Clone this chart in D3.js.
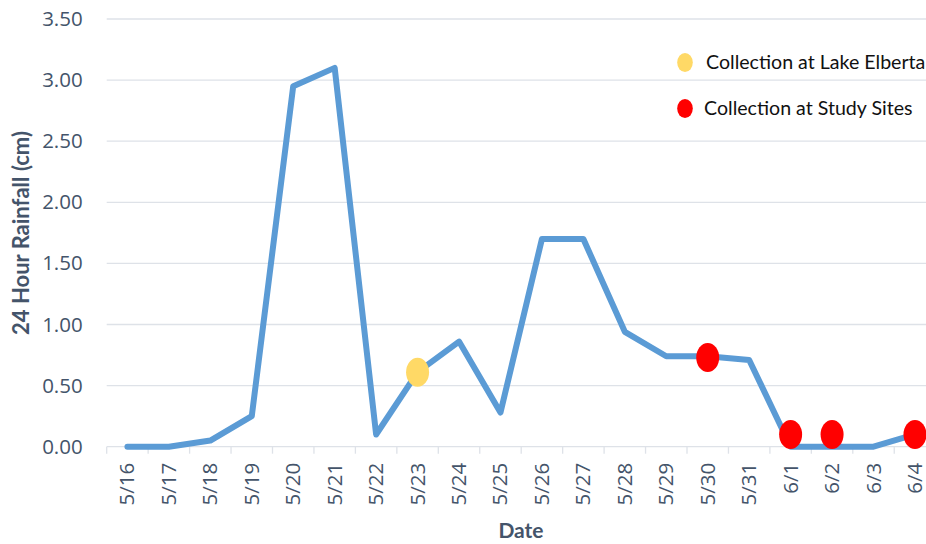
<!DOCTYPE html>
<html>
<head>
<meta charset="utf-8">
<script src="https://cdn.jsdelivr.net/npm/d3@7/dist/d3.min.js"></script>
<style>
  html, body { margin: 0; padding: 0; background: #fff; }
  svg { display: block; }
</style>
</head>
<body>
<svg id="chart" width="926" height="544"></svg>
<script>
// Daily rainfall record, 16 May – 4 June
const dates = ["5/16","5/17","5/18","5/19","5/20","5/21","5/22","5/23","5/24","5/25",
               "5/26","5/27","5/28","5/29","5/30","5/31","6/1","6/2","6/3","6/4"];
const rainfall = [0, 0, 0.05, 0.25, 2.95, 3.10, 0.10, 0.61, 0.86, 0.28,
                  1.70, 1.70, 0.94, 0.74, 0.74, 0.71, 0, 0, 0, 0.10];

// Sampling events
const lakeDates = ["5/23"];
const lakeValues = [0.61];
const siteDates = ["5/30", "6/1", "6/2", "6/4"];
const siteValues = [0.73, 0.10, 0.10, 0.10];

const yTicks = [0, 0.5, 1, 1.5, 2, 2.5, 3, 3.5];
const legendLabels = ["Collection at Lake Elberta", "Collection at Study Sites"];

const lineColor = "#5B9BD5";
const lakeColor = "#FFD966";
const siteColor = "#FF0000";
const axisText = "#44546A";
const gridColor = "#DEE2E8";

const svg = d3.select("#chart");

const x = d3.scaleBand().domain(dates).range([106.7, 935.7]).padding(0);
const y = d3.scaleLinear().domain([0, 3.5]).range([446.7, 19]);
const cx = d => x(d) + x.bandwidth() / 2;

// Horizontal gridlines
svg.append("g")
  .selectAll("line")
  .data(yTicks.filter(t => t > 0))
  .join("line")
  .attr("x1", 106.7).attr("x2", 926)
  .attr("y1", d => y(d)).attr("y2", d => y(d))
  .attr("stroke", gridColor).attr("stroke-width", 1.3);

// Y axis labels
const yAxis = svg.append("g")
  .attr("transform", "translate(106.7,0)")
  .call(d3.axisLeft(y).tickValues(yTicks).tickFormat(d3.format(".2f")).tickSize(0).tickPadding(24));
yAxis.select(".domain").remove();
yAxis.selectAll("text")
  .attr("fill", axisText)
  .style("font-family", "'Open Sans', sans-serif")
  .style("font-size", "20.5px");

// X axis: baseline, tick marks at category boundaries, rotated labels
const xAxisG = svg.append("g").attr("transform", `translate(0,${y(0)})`);
xAxisG.append("line")
  .attr("x1", 106.7).attr("x2", 926)
  .attr("stroke", gridColor).attr("stroke-width", 1.3);
xAxisG.selectAll("line.tick")
  .data(dates)
  .join("line")
  .attr("class", "tick")
  .attr("x1", d => x(d)).attr("x2", d => x(d))
  .attr("y1", 0).attr("y2", 7)
  .attr("stroke", gridColor).attr("stroke-width", 1.3);
xAxisG.selectAll("text")
  .data(dates)
  .join("text")
  .attr("transform", d => `translate(${cx(d) + 7},16) rotate(-90)`)
  .attr("text-anchor", "end")
  .attr("fill", axisText)
  .style("font-family", "'Open Sans', sans-serif")
  .style("font-size", "20.5px")
  .text(d => d);

// Axis titles
svg.append("text")
  .attr("transform", `translate(29,233) rotate(-90)`)
  .attr("text-anchor", "middle")
  .attr("fill", axisText)
  .style("font-family", "Lato, sans-serif")
  .style("font-weight", "bold")
  .style("font-size", "22px")
  .text("24 Hour Rainfall (cm)");

svg.append("text")
  .attr("x", 521).attr("y", 538)
  .attr("text-anchor", "middle")
  .attr("fill", axisText)
  .style("font-family", "Lato, sans-serif")
  .style("font-weight", "bold")
  .style("font-size", "21px")
  .text("Date");

// Rainfall line
const line = d3.line()
  .x((d, i) => cx(dates[i]))
  .y(d => y(d));
svg.append("path")
  .datum(rainfall)
  .attr("d", line)
  .attr("fill", "none")
  .attr("stroke", lineColor)
  .attr("stroke-width", 6)
  .attr("stroke-linejoin", "round")
  .attr("stroke-linecap", "round");

// Collection markers
svg.append("g").selectAll("ellipse")
  .data(lakeDates.map((d, i) => ({d, v: lakeValues[i]})))
  .join("ellipse")
  .attr("cx", p => cx(p.d)).attr("cy", p => y(p.v))
  .attr("rx", 11.5).attr("ry", 14.5)
  .attr("fill", lakeColor);

svg.append("g").selectAll("ellipse")
  .data(siteDates.map((d, i) => ({d, v: siteValues[i]})))
  .join("ellipse")
  .attr("cx", p => cx(p.d)).attr("cy", p => y(p.v))
  .attr("rx", 11.5).attr("ry", 14.5)
  .attr("fill", siteColor);

// Legend
const legend = svg.append("g");
const legendColors = [lakeColor, siteColor];
const legendY = [62.5, 108.5];
legendLabels.forEach((label, i) => {
  legend.append("ellipse")
    .attr("cx", 685).attr("cy", legendY[i])
    .attr("rx", 7.8).attr("ry", 9.6)
    .attr("fill", legendColors[i]);
  legend.append("text")
    .attr("x", i === 0 ? 706 : 704).attr("y", legendY[i] + 6.8)
    .attr("fill", "#111")
    .style("font-family", "Lato, sans-serif")
    .style("font-size", "19.6px")
    .text(label);
});
</script>
</body>
</html>
